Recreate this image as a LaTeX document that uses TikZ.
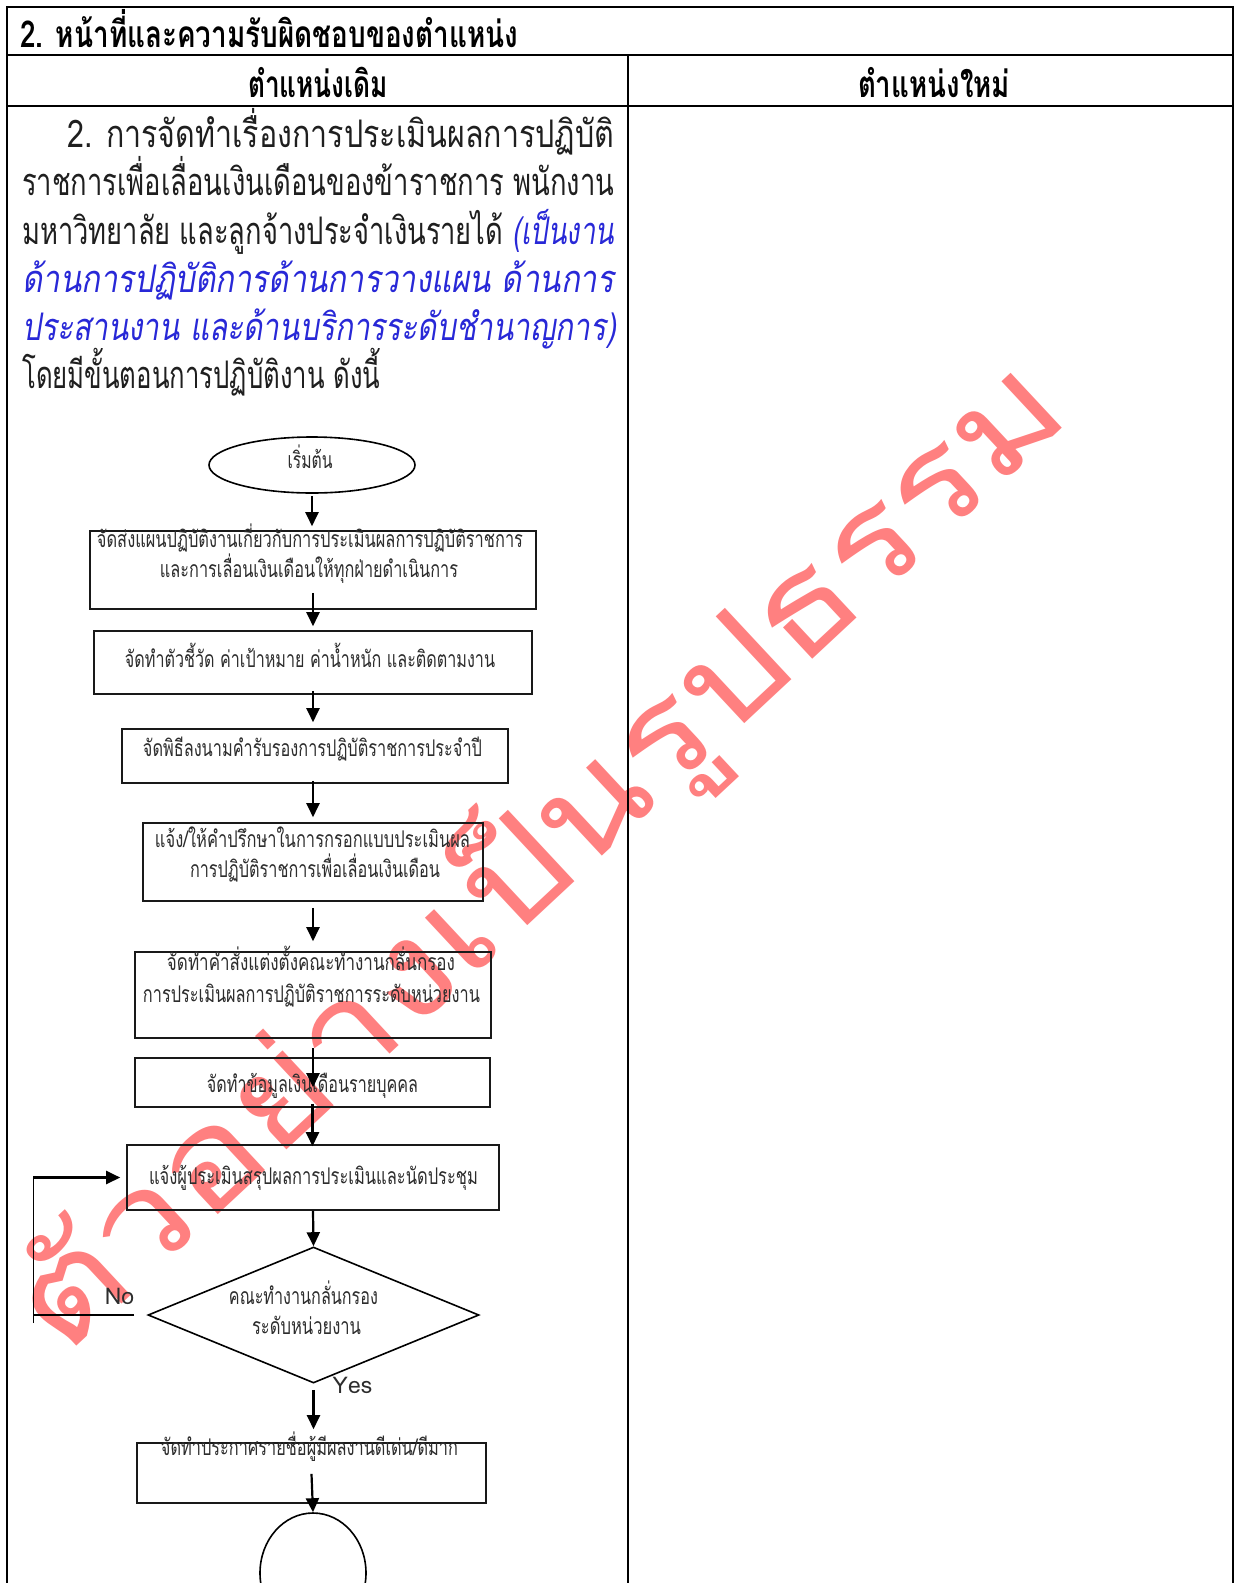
\documentclass[tikz,border=0pt]{standalone}
\usepackage{fontspec}
\setmainfont{Loma}[Script=Thai]
\newfontfamily\thaislant{Loma}[Script=Thai, FakeSlant=0.2]
\usepackage{graphicx}
\usepackage{xcolor}
\usetikzlibrary{shapes.geometric, arrows.meta, positioning}

\definecolor{wmred}{RGB}{255,128,128}
\definecolor{noteblue}{RGB}{40,40,215}
\definecolor{inkgray}{RGB}{45,45,45}
\newcommand{\fitw}[2]{\resizebox{#1}{\height}{#2}}

\tikzset{
  cell/.style={draw=black, line width=2pt},
  bodyline/.style={anchor=base west, inner sep=0pt, text=black!88, font=\fontsize{38}{44}\selectfont},
  headline/.style={anchor=base, inner sep=0pt, font=\fontsize{37}{42}\selectfont\bfseries},
  procbox/.style={draw=black!90, line width=1.6pt, rectangle, inner sep=0pt},
  termnode/.style={draw=black, line width=1.6pt, ellipse, inner sep=0pt},
  decision/.style={draw=black, line width=1.6pt, diamond, inner sep=0pt},
  flowtxt/.style={anchor=base, inner sep=0pt, text=inkgray, font=\fontsize{23}{28}\selectfont},
  flowarrow/.style={line width=2.2pt, -{Triangle[length=14pt,width=13pt]}},
}

\begin{document}
\begin{tikzpicture}[x=1pt, y=-1pt]
        \useasboundingbox (0,0) rectangle (1237,1583);
        \fill[white] (0,0) rectangle (1237,1583);
        \clip (0,0) rectangle (1237,1583);
        % Watermark
        \node[text=wmred, rotate=43, inner sep=0pt] (wm) at (538,855)
          {\fitw{1380pt}{\fontsize{135}{135}\selectfont ตัวอย่างเป็นรูปธรรม}};
        % Table
        \draw[cell] (7,1600) -- (7,7) -- (1233,7) -- (1233,1600);
        \draw[cell] (7,55) -- (1233,55);
        \draw[cell] (7,106) -- (1233,106);
        \draw[cell] (628,55) -- (628,1600);
        % Headings
        \node[headline, anchor=base west] (title) at (20,47) {\fitw{498pt}{2. หน้าที่และความรับผิดชอบของตำแหน่ง}};
        \node[headline] (oldpos) at (318,97) {\fitw{140pt}{ตำแหน่งเดิม}};
        \node[headline] (newpos) at (934,97) {\fitw{152pt}{ตำแหน่งใหม่}};
        % Description
        \node[bodyline] (line1) at (67,147) {\fitw{547pt}{2. การจัดทำเรื่องการประเมินผลการปฏิบัติ}};
        \node[bodyline] (line2) at (22,195) {\fitw{592pt}{ราชการเพื่อเลื่อนเงินเดือนของข้าราชการ พนักงาน}};
        \node[bodyline] (line3) at (22,244) {\fitw{592pt}{มหาวิทยาลัย และลูกจ้างประจำเงินรายได้ {\color{noteblue}\thaislant (เป็นงาน}}};
        \node[bodyline, text=noteblue] (line4) at (22,292) {\fitw{592pt}{\thaislant ด้านการปฏิบัติการด้านการวางแผน ด้านการ}};
        \node[bodyline, text=noteblue] (line5) at (22,340) {\fitw{594pt}{\thaislant ประสานงาน และด้านบริการระดับชำนาญการ)}};
        \node[bodyline] (line6) at (22,388) {\fitw{358pt}{โดยมีขั้นตอนการปฏิบัติงาน ดังนี้}};
        % Flow chart shapes
        \node[termnode, minimum width=206pt, minimum height=56pt] (start) at (312,465) {};
        \node[procbox, minimum width=446pt, minimum height=78pt] (b1) at (313,570) {};
        \node[procbox, minimum width=438pt, minimum height=63pt] (b2) at (313,662.5) {};
        \node[procbox, minimum width=386pt, minimum height=54pt] (b3) at (315,756) {};
        \node[procbox, minimum width=340pt, minimum height=78pt] (b4) at (313,862) {};
        \node[procbox, minimum width=356pt, minimum height=86pt] (b5) at (313,995) {};
        \node[procbox, minimum width=355pt, minimum height=49pt] (b6) at (312.5,1082.5) {};
        \node[procbox, minimum width=372pt, minimum height=65pt] (b7) at (313,1177.5) {};
        \node[decision, minimum width=331pt, minimum height=136pt] (dec) at (313.5,1315) {};
        \node[procbox, minimum width=349pt, minimum height=60pt] (b9) at (311.5,1473) {};
        \node[termnode, minimum width=106pt, minimum height=120pt] (stop) at (313,1573) {};
        % Flow chart texts
        \node[flowtxt] (tstart) at (310,468) {\fitw{45pt}{เริ่มต้น}};
        \node[flowtxt] (t1a) at (310,547) {\fitw{426pt}{จัดส่งแผนปฏิบัติงานเกี่ยวกับการประเมินผลการปฏิบัติราชการ}};
        \node[flowtxt] (t1b) at (309,577) {\fitw{298pt}{และการเลื่อนเงินเดือนให้ทุกฝ่ายดำเนินการ}};
        \node[flowtxt] (t2) at (310,667) {\fitw{370pt}{จัดทำตัวชี้วัด ค่าเป้าหมาย ค่าน้ำหนัก และติดตามงาน}};
        \node[flowtxt] (t3) at (312.5,756) {\fitw{339pt}{จัดพิธีลงนามคำรับรองการปฏิบัติราชการประจำปี}};
        \node[flowtxt] (t4a) at (312.5,847) {\fitw{315pt}{แจ้ง/ให้คำปรึกษาในการกรอกแบบประเมินผล}};
        \node[flowtxt] (t4b) at (315,877) {\fitw{250pt}{การปฏิบัติราชการเพื่อเลื่อนเงินเดือน}};
        \node[flowtxt] (t5a) at (311,970) {\fitw{288pt}{จัดทำคำสั่งแต่งตั้งคณะทำงานกลั่นกรอง}};
        \node[flowtxt] (t5b) at (311.5,1002) {\fitw{337pt}{การประเมินผลการปฏิบัติราชการระดับหน่วยงาน}};
        \node[flowtxt] (t6) at (312.5,1092) {\fitw{211pt}{จัดทำข้อมูลเงินเดือนรายบุคคล}};
        \node[flowtxt] (t7) at (313.5,1184) {\fitw{329pt}{แจ้งผู้ประเมินสรุปผลการประเมินและนัดประชุม}};
        \node[flowtxt] (td1) at (303.5,1304) {\fitw{149pt}{คณะทำงานกลั่นกรอง}};
        \node[flowtxt] (td2) at (306.5,1334) {\fitw{109pt}{ระดับหน่วยงาน}};
        \node[flowtxt] (no) at (119.5,1304) {No};
        \node[flowtxt] (yes) at (352.5,1393) {Yes};
        \node[flowtxt] (t9) at (309.5,1455) {\fitw{297pt}{จัดทำประกาศรายชื่อผู้มีผลงานดีเด่น/ดีมาก}};
        % Arrows
        \draw[flowarrow] ([yshift=-2pt]start.south) -- ([yshift=4pt]start.south |- b1.north);
        \draw[flowarrow] ([yshift=17pt]b1.south) -- ([yshift=4pt]b1.south |- b2.north);
        \draw[flowarrow] ([yshift=4pt]b2.south) -- ([yshift=6pt]b2.south |- b3.north);
        \draw[flowarrow] ([yshift=3pt]b4.north |- b3.south) -- ([yshift=5pt]b4.north);
        \draw[flowarrow] ([yshift=-6pt]b4.south) -- ([yshift=10pt]b4.south |- b5.north);
        \draw[flowarrow] ([yshift=-9pt]b5.south) -- ([yshift=-30pt]b5.south |- b6.north);
        \draw[flowarrow] ([yshift=4pt]b6.south) -- ([yshift=-2pt]b6.south |- b7.north);
        \draw[flowarrow] (b7.south) -- (dec.north);
        \draw[flowarrow] ([yshift=-6pt]dec.south) -- ([yshift=13pt]dec.south |- b9.north);
        \draw[flowarrow] ([yshift=30pt]b9.south) -- (stop.north);
        % No branch back to meeting step
        \coordinate (loopfoot) at (33,1323);
        \draw[line width=1.6pt] ([xshift=-13pt]dec.west) -- (loopfoot |- dec.west);
        \draw[line width=1pt] (loopfoot) -- (loopfoot |- b7.west);
        \draw[flowarrow] (loopfoot |- b7.west) -- ([xshift=-6pt]b7.west);
\end{tikzpicture}
\end{document}
